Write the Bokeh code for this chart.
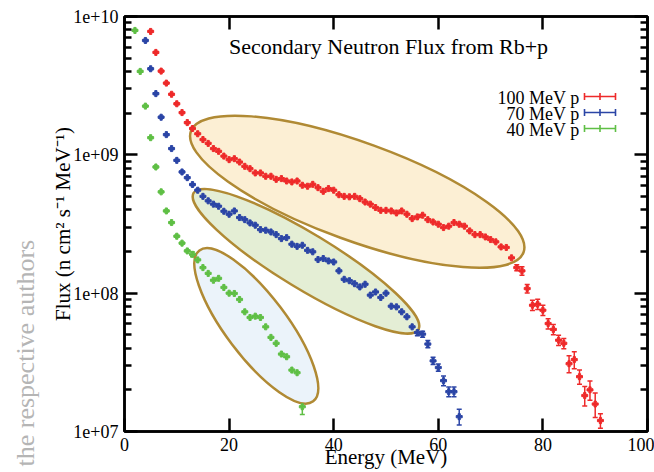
import math
from bokeh.plotting import figure
from bokeh.models import (ColumnDataSource, Whisker, TeeHead, Label, LogAxis, LinearAxis,
                          FixedTicker, CustomJSTickFormatter, Title)
from bokeh.embed import file_html
from bokeh.resources import INLINE

# ---------------- data ----------------
energy_100 = list(range(5, 92))
flux_100 = [7.80e9, 5.50e9, 4.03e9, 3.30e9, 2.74e9, 2.34e9, 2.02e9, 1.71e9, 1.55e9, 1.42e9,
            1.29e9, 1.21e9, 1.11e9, 1.06e9, 9.79e8, 9.23e8, 9.38e8, 8.87e8, 8.26e8, 7.94e8,
            7.40e8, 7.40e8, 7.00e8, 7.00e8, 6.65e8, 6.73e8, 6.47e8, 6.37e8, 6.47e8, 6.03e8,
            5.93e8, 6.12e8, 5.79e8, 5.45e8, 5.70e8, 5.55e8, 5.15e8, 5.01e8, 4.97e8, 5.01e8,
            4.82e8, 4.56e8, 4.40e8, 4.16e8, 3.97e8, 3.97e8, 3.93e8, 3.80e8, 3.93e8, 3.72e8,
            3.46e8, 3.56e8, 3.66e8, 3.40e8, 3.27e8, 3.15e8, 2.98e8, 3.05e8, 3.24e8, 3.15e8,
            3.05e8, 2.82e8, 2.65e8, 2.65e8, 2.55e8, 2.44e8, 2.35e8, 2.16e8, 2.14e8, 1.80e8,
            1.53e8, 1.45e8, 1.08e8, 8.18e7, 8.32e7, 7.53e7, 6.03e7, 5.47e7, 4.57e7, 4.34e7,
            3.09e7, 3.31e7, 2.49e7, 1.82e7, 2.00e7, 1.58e7, 1.20e7]
err_100_pct = [1.5, 1.5, 1.5, 1.5, 1.5, 1.5, 1.5, 1.5, 1.5, 1.5, 1.5, 1.5, 1.5, 1.5, 1.5, 1.5,
               3, 3, 3, 3, 3, 3, 3, 3, 3, 3, 3, 3, 3, 3, 3, 3, 3, 3, 3, 3,
               3.5, 3.5, 3.5, 3.5, 3.5, 3.5, 3.5, 3.5, 3.5, 3.5, 3.5, 3.5, 3.5, 3.5, 3.5, 3.5,
               3.5, 3.5, 3.5, 3.5,
               4, 4, 4, 4, 4, 4, 4, 4, 4, 4, 4, 4, 4,
               5, 5, 7, 7, 8.5, 8.5, 8.5, 8.5, 8.5, 8.5, 8.5,
               14, 14, 12, 16, 16, 20, 12]

energy_70 = list(range(4, 65))
flux_70 = [6.71e9, 4.19e9, 2.77e9, 1.87e9, 1.40e9, 1.11e9, 9.12e8, 7.52e8, 6.84e8, 6.10e8,
           5.55e8, 5.01e8, 4.65e8, 4.40e8, 4.25e8, 3.91e8, 3.72e8, 3.93e8, 3.52e8, 3.40e8,
           3.22e8, 3.10e8, 2.88e8, 2.85e8, 2.77e8, 2.65e8, 2.48e8, 2.52e8, 2.26e8, 2.18e8,
           2.22e8, 2.04e8, 1.99e8, 1.75e8, 1.78e8, 1.71e8, 1.68e8, 1.45e8, 1.26e8, 1.23e8,
           1.17e8, 1.11e8, 1.16e8, 9.68e7, 1.02e8, 9.31e7, 1.00e8, 8.05e7, 7.96e7, 7.33e7,
           6.75e7, 5.71e7, 5.19e7, 5.06e7, 4.29e7, 3.24e7, 2.90e7, 2.33e7, 1.94e7, 1.94e7,
           1.28e7]
err_70_pct = [1.5, 1.5, 1.5, 1.5, 1.5, 1.5, 1.5, 1.5, 1.5, 1.5, 1.5, 1.5, 1.5, 1.5, 1.5, 1.5, 1.5,
              2.5, 2.5, 2.5, 2.5, 2.5, 2.5, 2.5, 2.5, 2.5, 2.5, 2.5, 2.5, 2.5, 2.5, 2.5, 2.5,
              2.5, 2.5, 2.5, 2.5,
              3.5, 3.5, 3.5, 3.5, 3.5, 3.5, 3.5, 3.5, 3.5, 3.5,
              5, 5, 5, 5, 5, 5, 5, 6, 6, 6, 8, 8, 8, 13]

energy_40 = list(range(2, 35))
flux_40 = [7.93e9, 4.01e9, 2.25e9, 1.33e9, 8.17e8, 5.40e8, 3.93e8, 3.24e8, 2.58e8, 2.30e8,
           2.02e8, 1.91e8, 1.74e8, 1.53e8, 1.39e8, 1.24e8, 1.28e8, 1.10e8, 1.00e8, 9.95e7,
           9.00e7, 7.33e7, 6.67e7, 6.82e7, 6.67e7, 5.71e7, 4.79e7, 4.34e7, 3.63e7, 3.47e7,
           2.78e7, 2.66e7, 1.51e7]
err_40_pct = [1.5, 1.5, 1.5, 1.5, 1.5, 1.5, 1.5, 1.5, 1.5, 1.5, 1.5,
              4, 4, 4, 4, 4, 4, 4, 4, 4, 4,
              5, 5, 5, 5, 5, 5, 5, 5,
              7, 7, 7, 12]

series_labels = ["100 MeV p", "70 MeV p", "40 MeV p"]

# highlighted regions (centre energy, centre flux)
region_energy = [44.5, 34.7, 25.2]
region_flux = [5.41e8, 1.70e8, 5.80e7]

# ---------------- layout ----------------
W, H = 654, 472
ML, MR, MT, MB = 124, 7, 16, 41
FW, FH = W - ML - MR, H - MT - MB
FONT = "Liberation Serif"

def dx(px):
    return (px - ML) / FW * 100.0

def dy(py):
    return 10 ** (10 - (py - MT) / FH * 3.0)

p = figure(width=W, height=H, x_range=(0, 100), y_range=(1e7, 1e10), y_axis_type="log",
           output_backend="svg", toolbar_location=None, title_location="left",
           min_border_left=ML, min_border_right=MR, min_border_top=MT, min_border_bottom=MB)
p.xgrid.visible = False
p.ygrid.visible = False
p.outline_line_color = "black"
p.outline_line_width = 2.5
p.background_fill_color = "white"
p.border_fill_color = "white"

# watermark at the left edge
p.title = Title(text="the respective authors", align="left", offset=-35, standoff=14,
                vertical_align="top", text_font=FONT, text_font_size="26px",
                text_font_style="normal", text_color="#b5b5b5")

xt = FixedTicker(ticks=[0, 20, 40, 60, 80, 100], minor_ticks=[])
yt = FixedTicker(ticks=[1e7, 1e8, 1e9, 1e10],
                 minor_ticks=[m * 10 ** d for d in (7, 8, 9) for m in range(2, 10)])
yfmt = CustomJSTickFormatter(code="""
const e = Math.round(Math.log10(tick));
return "1e+" + (e < 10 ? "0" + e : "" + e);
""")

def style_axis(ax, labels=True):
    ax.axis_line_color = "black"
    ax.axis_line_width = 2.5
    ax.major_tick_line_color = "black"
    ax.major_tick_line_width = 2.5
    ax.minor_tick_line_color = "black"
    ax.minor_tick_line_width = 2.5
    ax.major_tick_in = 13
    ax.major_tick_out = 0
    ax.minor_tick_in = 7
    ax.minor_tick_out = 0
    ax.major_label_text_font = FONT
    ax.axis_label_text_font = FONT
    ax.axis_label_text_font_size = "21px"
    ax.axis_label_text_font_style = "normal"
    ax.axis_label_text_color = "black"
    if labels:
        ax.major_label_text_font_size = "18px"
        ax.major_label_text_color = "black"
    else:
        ax.major_label_text_font_size = "1px"
        ax.major_label_text_color = None
        ax.major_label_standoff = 0

xa = p.xaxis[0]
xa.ticker = xt
style_axis(xa)
xa.axis_label = "Energy (MeV)"
xa.major_label_standoff = 6
xa.axis_label_standoff = -9

ya = p.yaxis[0]
ya.ticker = yt
ya.formatter = yfmt
style_axis(ya)
ya.axis_label = "Flux (n cm\u00b2 s\u207b\u00b9 MeV\u207b\u00b9)"
ya.major_label_standoff = 6
ya.axis_label_standoff = -5

ra = LogAxis(ticker=yt, formatter=yfmt)
style_axis(ra, labels=False)
p.add_layout(ra, "right")
ta = LinearAxis(ticker=xt)
style_axis(ta, labels=False)
p.add_layout(ta, "above")

# ---------------- highlight ellipses ----------------
ell_w = [354, 263, 189]
ell_h = [98, 55, 61]
ell_angle = [-20.0, -31.3, -53.0]
ell_fill = ["#fcefd4", "#e4eed5", "#ebf3fa"]
p.ellipse(x=region_energy, y=region_flux, width=ell_w, height=ell_h, angle=ell_angle,
          angle_units="deg", width_units="screen", height_units="screen",
          fill_color=ell_fill, line_color="#b08a34", line_width=2.5)

# ---------------- series ----------------
colors = ["#ee2a2a", "#2b45a6", "#5fbf45"]
series = [(energy_100, flux_100, err_100_pct),
          (energy_70, flux_70, err_70_pct),
          (energy_40, flux_40, err_40_pct)]
for (e, f, er), c in zip(series, colors):
    lo = [v * (1 - q / 100.0) for v, q in zip(f, er)]
    hi = [v * (1 + q / 100.0) for v, q in zip(f, er)]
    src = ColumnDataSource(dict(x=e, y=f, lo=lo, hi=hi))
    p.add_layout(Whisker(source=src, base="x", lower="lo", upper="hi", dimension="height",
                         line_color=c, line_width=1.5,
                         upper_head=TeeHead(size=5, line_color=c, line_width=1.5),
                         lower_head=TeeHead(size=5, line_color=c, line_width=1.5)))
    p.scatter("x", "y", source=src, marker="plus", size=6, color=c)

# ---------------- title, legend ----------------
p.add_layout(Label(x=dx(388), y=dy(46), text="Secondary Neutron Flux from Rb+p",
                   text_align="center", text_baseline="middle",
                   text_font=FONT, text_font_size="22px", text_color="black"))

legend_rows = [96, 112, 128]
for lab, c, py in zip(series_labels, colors, legend_rows):
    p.add_layout(Label(x=dx(579), y=dy(py + 1), text=lab, text_align="right",
                       text_baseline="middle", text_font=FONT, text_font_size="18px",
                       text_color="black"))
    p.segment(x0=[dx(584)], y0=[dy(py)], x1=[dx(615)], y1=[dy(py)], line_color=c, line_width=1.6)
    p.segment(x0=[dx(584), dx(615), dx(599.5)], y0=[dy(py - 3.5)] * 3,
              x1=[dx(584), dx(615), dx(599.5)], y1=[dy(py + 3.5)] * 3,
              line_color=c, line_width=1.6)

open("out.html", "w").write(file_html(p, INLINE))
